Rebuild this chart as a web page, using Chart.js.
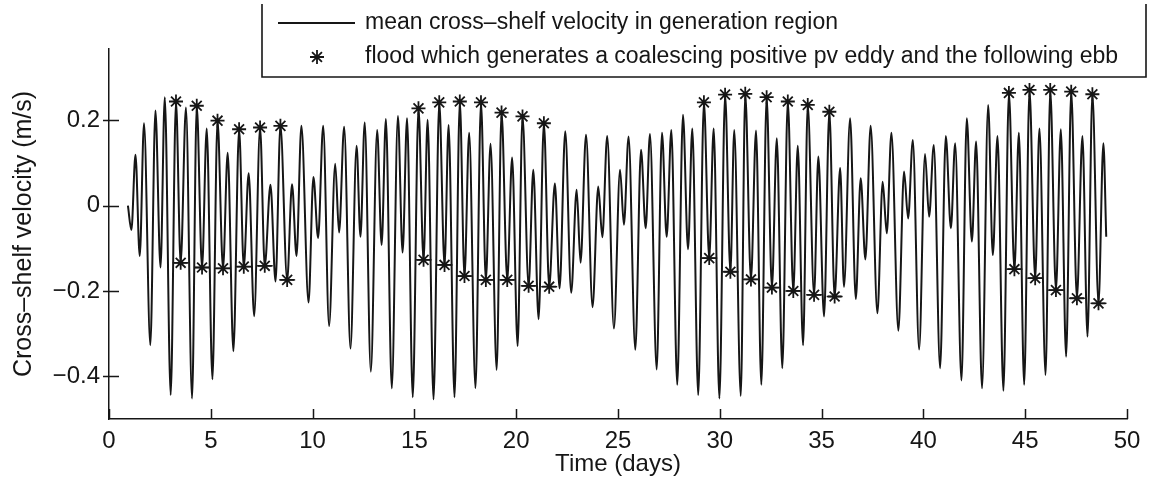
<!DOCTYPE html>
<html>
<head>
<meta charset="utf-8">
<script src="https://cdn.jsdelivr.net/npm/chart.js@4.4.1/dist/chart.umd.min.js"></script>
<style>
    html, body { margin: 0; padding: 0; background: #fff; }
    #velocity-chart-container { width: 1151px; height: 488px; position: relative; }
</style>
</head>
<body>
<div id="velocity-chart-container"><canvas id="velocity-chart"></canvas></div>
<script>
// time (days) and mean cross-shelf velocity (m/s) at each turning point of the curve
const velTime = [0.93, 1.10, 1.30, 1.51, 1.72, 2.03, 2.28, 2.53, 2.74, 3.03, 3.29, 3.52, 3.78, 4.08, 4.31, 4.57, 4.80, 5.08, 5.33, 5.60,
    5.83, 6.11, 6.39, 6.62, 6.86, 7.13, 7.42, 7.65, 7.93, 8.18, 8.42, 8.75, 8.99, 9.21, 9.45, 9.80, 10.04, 10.27, 10.52, 10.81,
    11.11, 11.30, 11.55, 11.86, 12.16, 12.35, 12.56, 12.86, 13.17, 13.39, 13.60, 13.89, 14.19, 14.42, 14.64, 14.92, 15.20, 15.45, 15.65, 15.94,
    16.22, 16.48, 16.68, 16.97, 17.23, 17.46, 17.69, 18.00, 18.27, 18.51, 18.74, 19.04, 19.28, 19.56, 19.80, 20.07, 20.31, 20.61, 20.84, 21.10,
    21.36, 21.62, 21.90, 22.13, 22.41, 22.70, 22.97, 23.16, 23.43, 23.75, 24.03, 24.23, 24.47, 24.80, 25.10, 25.29, 25.52, 25.85, 26.13, 26.36,
    26.57, 26.90, 27.16, 27.39, 27.62, 27.91, 28.19, 28.44, 28.65, 28.94, 29.22, 29.48, 29.70, 29.98, 30.26, 30.52, 30.71, 31.03, 31.25, 31.53,
    31.78, 32.04, 32.30, 32.56, 32.80, 33.07, 33.34, 33.61, 33.83, 34.09, 34.32, 34.63, 34.84, 35.12, 35.38, 35.64, 35.91, 36.10, 36.40, 36.68,
    36.92, 37.15, 37.41, 37.74, 38.00, 38.20, 38.43, 38.77, 39.05, 39.25, 39.48, 39.79, 40.08, 40.28, 40.51, 40.82, 41.10, 41.35, 41.56, 41.87,
    42.13, 42.38, 42.59, 42.88, 43.18, 43.41, 43.64, 43.93, 44.20, 44.47, 44.69, 44.95, 45.21, 45.49, 45.70, 46.00, 46.23, 46.51, 46.75, 47.01,
    47.26, 47.54, 47.81, 48.06, 48.30, 48.60, 48.84, 48.98];
const velValue = [0.000, -0.057, 0.119, -0.118, 0.193, -0.327, 0.223, -0.145, 0.254, -0.444, 0.244, -0.134, 0.230, -0.452, 0.234, -0.145, 0.181, -0.407, 0.199, -0.147,
    0.124, -0.341, 0.179, -0.143, 0.076, -0.259, 0.183, -0.141, 0.049, -0.178, 0.187, -0.174, 0.050, -0.118, 0.187, -0.227, 0.067, -0.076, 0.187, -0.282,
    0.098, -0.063, 0.185, -0.335, 0.140, -0.073, 0.195, -0.389, 0.177, -0.092, 0.203, -0.428, 0.210, -0.110, 0.205, -0.449, 0.228, -0.127, 0.201, -0.454,
    0.242, -0.139, 0.189, -0.449, 0.244, -0.165, 0.171, -0.428, 0.242, -0.174, 0.145, -0.385, 0.218, -0.174, 0.113, -0.329, 0.209, -0.188, 0.084, -0.266,
    0.193, -0.190, 0.052, -0.194, 0.174, -0.204, 0.037, -0.134, 0.166, -0.238, 0.045, -0.074, 0.163, -0.288, 0.084, -0.045, 0.162, -0.338, 0.131, -0.053,
    0.168, -0.384, 0.171, -0.073, 0.177, -0.420, 0.213, -0.102, 0.181, -0.444, 0.242, -0.123, 0.181, -0.452, 0.260, -0.155, 0.177, -0.446, 0.262, -0.173,
    0.176, -0.420, 0.254, -0.192, 0.158, -0.381, 0.244, -0.200, 0.140, -0.327, 0.236, -0.209, 0.115, -0.260, 0.220, -0.213, 0.088, -0.190, 0.205, -0.219,
    0.064, -0.126, 0.187, -0.252, 0.056, -0.065, 0.171, -0.293, 0.080, -0.030, 0.154, -0.337, 0.121, -0.026, 0.142, -0.381, 0.163, -0.053, 0.146, -0.410,
    0.205, -0.084, 0.150, -0.428, 0.236, -0.116, 0.163, -0.434, 0.264, -0.149, 0.171, -0.420, 0.271, -0.170, 0.181, -0.397, 0.271, -0.198, 0.179, -0.354,
    0.267, -0.217, 0.163, -0.307, 0.261, -0.229, 0.146, -0.073];

// floods that generate a coalescing positive pv eddy, and the ebb following each
const floodTime = [3.29, 4.31, 5.33, 6.39, 7.42, 8.42, 15.20, 16.22, 17.23, 18.27, 19.28, 20.31, 21.36,
    29.22, 30.26, 31.25, 32.30, 33.34, 34.32, 35.38, 44.20, 45.21, 46.23, 47.26, 48.30];
const floodValue = [0.244, 0.234, 0.199, 0.179, 0.183, 0.187, 0.228, 0.242, 0.244, 0.242, 0.218, 0.209, 0.193,
    0.242, 0.260, 0.262, 0.254, 0.244, 0.236, 0.220, 0.264, 0.271, 0.271, 0.267, 0.261];
const ebbTime = [3.52, 4.57, 5.60, 6.62, 7.65, 8.75, 15.45, 16.48, 17.46, 18.51, 19.56, 20.61, 21.62,
    29.48, 30.52, 31.53, 32.56, 33.61, 34.63, 35.64, 44.47, 45.49, 46.51, 47.54, 48.60];
const ebbValue = [-0.134, -0.145, -0.147, -0.143, -0.141, -0.174, -0.127, -0.139, -0.165, -0.174, -0.174, -0.188, -0.190,
    -0.123, -0.155, -0.173, -0.192, -0.200, -0.209, -0.213, -0.149, -0.170, -0.198, -0.217, -0.229];

const xTicks = [0, 5, 10, 15, 20, 25, 30, 35, 40, 45, 50];
const yTicks = [-0.4, -0.2, 0, 0.2];
const legendLabels = [
    'mean cross\u2013shelf velocity in generation region',
    'flood which generates a coalescing positive pv eddy and the following ebb'
];

const INK = '#161616';
const FONT = "'Liberation Sans', Arial, Helvetica, sans-serif";

function toPoints(xs, ys) {
    return xs.map(function (x, i) { return { x: x, y: ys[i] }; });
}

function drawStar(ctx, x, y, r) {
    ctx.beginPath();
    for (let k = 0; k < 4; k++) {
        const a = k * Math.PI / 4;
        ctx.moveTo(x - Math.cos(a) * r, y - Math.sin(a) * r);
        ctx.lineTo(x + Math.cos(a) * r, y + Math.sin(a) * r);
    }
    ctx.stroke();
}

// matlab style ticks: x ticks inside, y ticks across the axis
const axisTicks = {
    id: 'axisTicks',
    afterDraw: function (chart) {
        const ctx = chart.ctx;
        const area = chart.chartArea;
        ctx.save();
        ctx.strokeStyle = INK;
        ctx.lineWidth = 1.5;
        ctx.beginPath();
        xTicks.forEach(function (v) {
            const px = Math.round(chart.scales.x.getPixelForValue(v)) + 0.5;
            ctx.moveTo(px, area.bottom);
            ctx.lineTo(px, area.bottom - 10);
        });
        yTicks.forEach(function (v) {
            const py = Math.round(chart.scales.y.getPixelForValue(v)) + 0.5;
            ctx.moveTo(area.left - 6, py);
            ctx.lineTo(area.left + 10, py);
        });
        ctx.stroke();
        ctx.restore();
    }
};

const legendBox = {
    id: 'legendBox',
    afterDraw: function (chart) {
        const ctx = chart.ctx;
        ctx.save();
        ctx.strokeStyle = INK;
        ctx.lineWidth = 1.6;
        ctx.beginPath();
        ctx.moveTo(262, 4);
        ctx.lineTo(262, 77);
        ctx.lineTo(1146, 77);
        ctx.lineTo(1146, 4);
        ctx.stroke();

        ctx.lineWidth = 2;
        ctx.beginPath();
        ctx.moveTo(278, 23);
        ctx.lineTo(355, 23);
        ctx.stroke();

        ctx.lineWidth = 1.8;
        drawStar(ctx, 317, 57, 7);

        ctx.fillStyle = INK;
        ctx.font = '23px ' + FONT;
        ctx.textBaseline = 'alphabetic';
        ctx.textAlign = 'left';
        ctx.fillText(legendLabels[0], 365, 29);
        ctx.fillText(legendLabels[1], 365, 63);
        ctx.restore();
    }
};

function fmtTick(v) {
    if (Math.abs(v) < 1e-9) return '0';
    return (v < 0 ? '\u2212' : '') + Math.abs(v).toFixed(1);
}

new Chart(document.querySelector('#velocity-chart').getContext('2d'), {
    type: 'line',
    data: {
        datasets: [
            {
                label: legendLabels[0],
                data: toPoints(velTime, velValue),
                borderColor: INK,
                borderWidth: 2,
                pointRadius: 0,
                cubicInterpolationMode: 'monotone',
                fill: false
            },
            {
                label: legendLabels[1],
                data: toPoints(floodTime, floodValue),
                showLine: false,
                pointStyle: 'star',
                pointRadius: 7,
                borderColor: INK,
                borderWidth: 1.8
            },
            {
                label: 'ebb',
                data: toPoints(ebbTime, ebbValue),
                showLine: false,
                pointStyle: 'star',
                pointRadius: 7,
                borderColor: INK,
                borderWidth: 1.8
            },
            {
                label: 'ebb bar',
                data: toPoints(ebbTime, ebbValue),
                showLine: false,
                pointStyle: 'line',
                pointRadius: 8,
                borderColor: INK,
                borderWidth: 1.4
            }
        ]
    },
    options: {
        responsive: true,
        maintainAspectRatio: false,
        animation: false,
        devicePixelRatio: 1,
        layout: { padding: { top: 49, right: 24, left: 0, bottom: 0 } },
        plugins: {
            legend: { display: false },
            tooltip: { enabled: false }
        },
        scales: {
            x: {
                type: 'linear',
                min: 0,
                max: 50,
                afterBuildTicks: function (scale) {
                    scale.ticks = xTicks.map(function (v) { return { value: v }; });
                },
                afterFit: function (scale) { scale.height = 69; },
                ticks: {
                    color: INK,
                    font: { family: FONT, size: 24 },
                    padding: 8,
                    maxRotation: 0,
                    callback: function (v) { return String(v); }
                },
                grid: { drawOnChartArea: false, drawTicks: false },
                border: { display: true, color: INK, width: 1.5 },
                title: {
                    display: true,
                    text: 'Time (days)',
                    color: INK,
                    font: { family: FONT, size: 24 },
                    padding: { top: 0, bottom: 9 }
                }
            },
            y: {
                type: 'linear',
                min: -0.5,
                max: 0.367,
                afterBuildTicks: function (scale) {
                    scale.ticks = yTicks.map(function (v) { return { value: v }; });
                },
                afterFit: function (scale) { scale.width = 109; },
                ticks: {
                    color: INK,
                    font: { family: FONT, size: 24 },
                    padding: 9,
                    callback: fmtTick
                },
                grid: { drawOnChartArea: false, drawTicks: false },
                border: { display: true, color: INK, width: 1.5 },
                title: {
                    display: true,
                    text: 'Cross\u2013shelf velocity (m/s)',
                    color: INK,
                    font: { family: FONT, size: 25 },
                    padding: { top: 9, bottom: 0 }
                }
            }
        }
    },
    plugins: [axisTicks, legendBox]
});
</script>
</body>
</html>
